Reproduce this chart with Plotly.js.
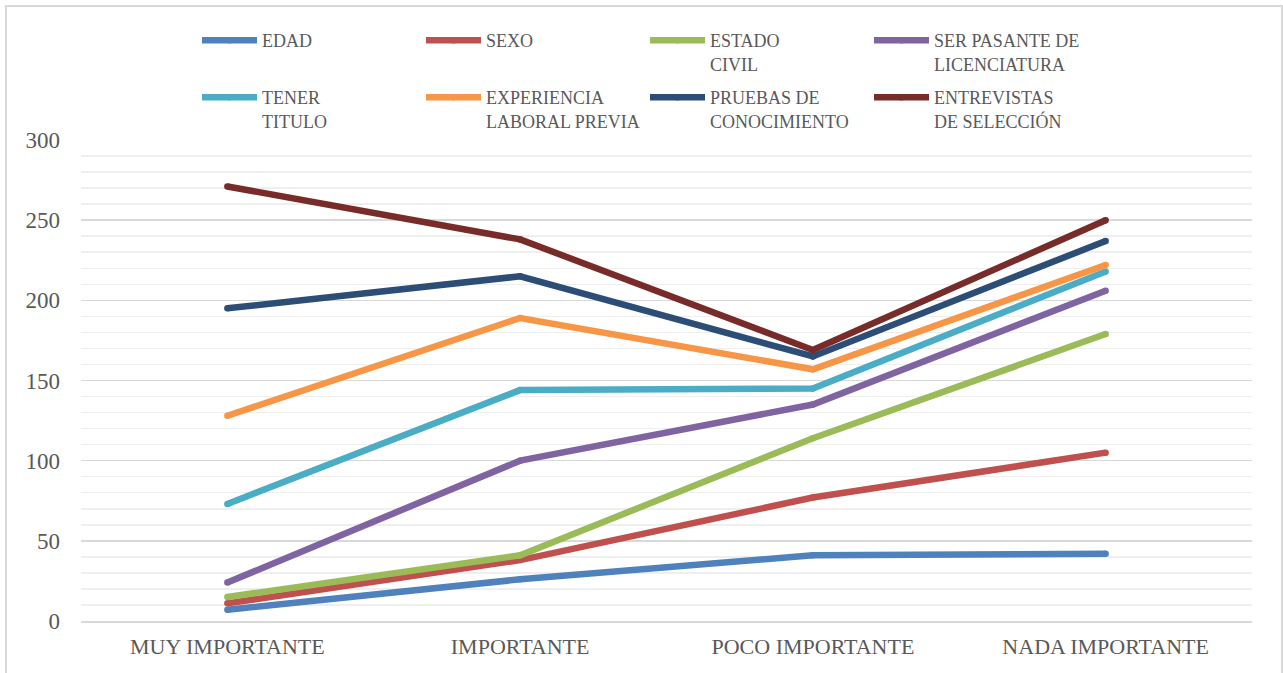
<!DOCTYPE html>
<html>
<head>
<meta charset="utf-8">
<script src="https://cdn.plot.ly/plotly-3.0.1.min.js"></script>
<style>
  html, body { margin: 0; padding: 0; background: #ffffff; }
  #wrap { position: relative; width: 1283px; height: 673px; overflow: hidden; }
  #chart { position: absolute; left: 0; top: 0; width: 1283px; height: 673px; }
  #frame { position: absolute; left: 5px; top: 5px; width: 1274px; height: 700px;
           border: 2px solid #d9d9d9; pointer-events: none; }
</style>
</head>
<body>
<div id="wrap">
  <div id="chart"></div>
  <div id="frame"></div>
</div>
<script>
// ---- data ----
const categories = ["MUY IMPORTANTE", "IMPORTANTE", "POCO IMPORTANTE", "NADA IMPORTANTE"];

const edad        = [7, 26, 41, 42];
const sexo        = [11, 38, 77, 105];
const estadoCivil = [15, 41, 114, 179];
const serPasante  = [24, 100, 135, 206];
const tenerTitulo = [73, 144, 145, 218];
const experiencia = [128, 189, 157, 222];
const pruebas     = [195, 215, 165, 237];
const entrevistas = [271, 238, 169, 250];

const seriesNames = [
  "EDAD", "SEXO", "ESTADO<br>CIVIL", "SER PASANTE DE<br>LICENCIATURA",
  "TENER<br>TITULO", "EXPERIENCIA<br>LABORAL PREVIA", "PRUEBAS DE<br>CONOCIMIENTO", "ENTREVISTAS<br>DE SELECCIÓN"
];
const seriesValues = [edad, sexo, estadoCivil, serPasante, tenerTitulo, experiencia, pruebas, entrevistas];
const seriesColors = ["#4F81BD", "#C0504D", "#9BBB59", "#8064A2", "#4BACC6", "#F79646", "#2C4D75", "#772C2A"];

const yTickVals = [0, 50, 100, 150, 200, 250, 300];

// ---- traces ----
const FONT = "Liberation Serif, Times New Roman, serif";
const TXT = "#595959";

const traces = seriesValues.map((vals, i) => ({
  type: "scatter",
  mode: "lines+markers",
  x: categories,
  y: vals,
  name: seriesNames[i],
  line: { color: seriesColors[i], width: 6.5 },
  marker: { color: seriesColors[i], size: 6.5, line: { width: 0 } },
  legend: i < 4 ? "legend" : "legend2",
  hoverinfo: "x+y+name"
}));

const legendCommon = {
  orientation: "h",
  xref: "container",
  yref: "container",
  xanchor: "left",
  yanchor: "top",
  x: 197 / 1283,
  font: { family: FONT, size: 18, color: TXT },
  bgcolor: "rgba(0,0,0,0)",
  borderwidth: 0,
  entrywidth: 154,
  entrywidthmode: "pixels",
  itemwidth: 55,
  valign: "top",
  traceorder: "normal"
};

const layout = {
  width: 1283,
  height: 673,
  paper_bgcolor: "#ffffff",
  plot_bgcolor: "#ffffff",
  margin: { l: 81, r: 31, t: 140, b: 52, autoexpand: false },
  font: { family: FONT, color: TXT },
  showlegend: true,
  legend: Object.assign({}, legendCommon, { y: 1 - 22 / 673 }),
  legend2: Object.assign({}, legendCommon, { y: 1 - 79 / 673 }),
  xaxis: {
    type: "category",
    range: [-0.5, 3.5],
    showgrid: false,
    zeroline: false,
    showline: true,
    linecolor: "#d9d9d9",
    linewidth: 1.5,
    ticks: "",
    tickfont: { family: FONT, size: 22, color: TXT },
    ticklabelstandoff: 5,
    fixedrange: true
  },
  yaxis: {
    range: [0, 300],
    tickvals: yTickVals,
    showgrid: true,
    gridcolor: "#d9d9d9",
    gridwidth: 1.5,
    zeroline: false,
    showline: false,
    ticks: "",
    tickfont: { family: FONT, size: 23, color: TXT },
    ticklabelstandoff: 20,
    minor: { dtick: 10, showgrid: true, gridcolor: "#efefef", gridwidth: 1.5 },
    fixedrange: true
  }
};

Plotly.newPlot("chart", traces, layout, { displayModeBar: false, staticPlot: true });
</script>
</body>
</html>
